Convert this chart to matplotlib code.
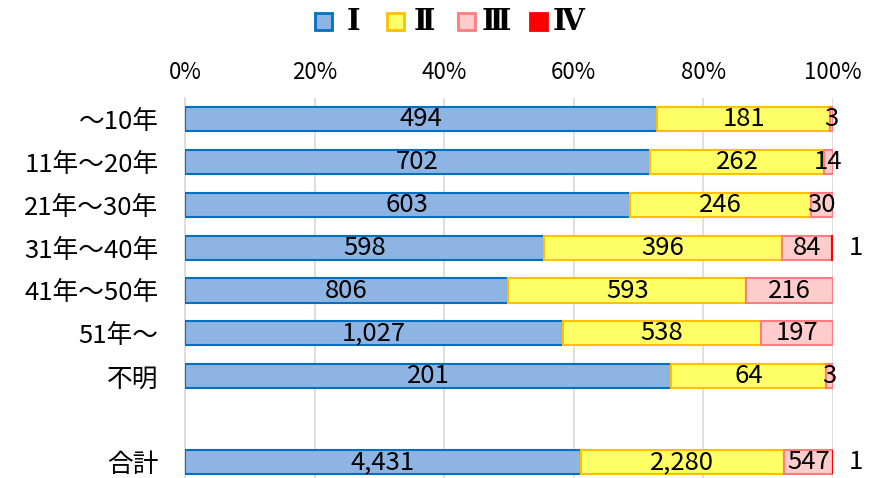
import numpy as np
import matplotlib.pyplot as plt
from matplotlib.patches import Rectangle

plt.rcParams['font.family'] = ['Noto Sans CJK JP', 'DejaVu Sans']

categories = ["～10年", "11年～20年", "21年～30年", "31年～40年", "41年～50年",
              "51年～", "不明", "", "合計"]
s1 = [494, 702, 603, 598, 806, 1027, 201, 0, 4431]
s2 = [181, 262, 246, 396, 593, 538, 64, 0, 2280]
s3 = [3, 14, 30, 84, 216, 197, 3, 0, 547]
s4 = [0, 0, 0, 1, 0, 0, 0, 0, 1]
series_names = ["Ⅰ", "Ⅱ", "Ⅲ", "Ⅳ"]

fills = ["#8EB4E3", "#FFFF66", "#FFCCCC", "#FF0000"]
edges = ["#0070C0", "#FFC000", "#FF7C80", "#FF0000"]

data = np.array([s1, s2, s3, s4], dtype=float)
totals = data.sum(axis=0)
totals[totals == 0] = 1
pct = data / totals

W, H = 876, 478
fig = plt.figure(figsize=(W / 100, H / 100), dpi=100)
ax = fig.add_axes([185/W, 1 - 483.5/H, (833-185)/W, (483.5-97.5)/H])

y = np.arange(len(categories))
left = np.zeros(len(categories))
for i in range(4):
    keep = data[i] > 0
    ax.barh(y[keep], pct[i][keep], left=left[keep], height=0.56, color=fills[i],
            edgecolor=edges[i], linewidth=1.5, zorder=3)
    for j in np.where(keep)[0]:
        v = int(data[i, j])
        if i == 3:
            ax.text(1.035, y[j], f"{v:,}", ha="center", va="center",
                    fontsize=18.5, zorder=5, clip_on=False)
        else:
            ax.text(left[j] + pct[i, j] / 2, y[j], f"{v:,}", ha="center",
                    va="center", fontsize=18.5, zorder=5)
    left += pct[i]

ax.set_xlim(0, 1)
ax.set_ylim(len(categories) - 0.5, -0.5)
ax.set_yticks(y)
ax.set_yticklabels(categories, fontsize=18.5)
ax.set_xticks(np.linspace(0, 1, 6))
ax.set_xticklabels([f"{int(t)}%" for t in np.linspace(0, 100, 6)], fontsize=16)
ax.xaxis.tick_top()
ax.tick_params(axis="both", length=0)
ax.tick_params(axis="y", pad=19)
ax.tick_params(axis="x", pad=10)
ax.grid(axis="x", color="#D9D9D9", linewidth=1.2, zorder=0)
for sp in ["top", "right", "bottom"]:
    ax.spines[sp].set_visible(False)
ax.spines["left"].set_color("#D9D9D9")
ax.spines["left"].set_linewidth(1.2)

# legend: fixed-width entries like the original
for k, name in enumerate(series_names):
    x0 = 315 + 71.7 * k
    fig.add_artist(Rectangle((x0 / W, 1 - 30 / H), 17 / W, 17 / H,
                             transform=fig.transFigure, facecolor=fills[k],
                             edgecolor=edges[k], linewidth=2))
    fig.text((x0 + 38) / W, 1 - 21.5 / H, name, ha="center", va="center",
             family="DejaVu Serif", fontsize=21, fontweight="bold")

fig.savefig("out.png", dpi=100)
